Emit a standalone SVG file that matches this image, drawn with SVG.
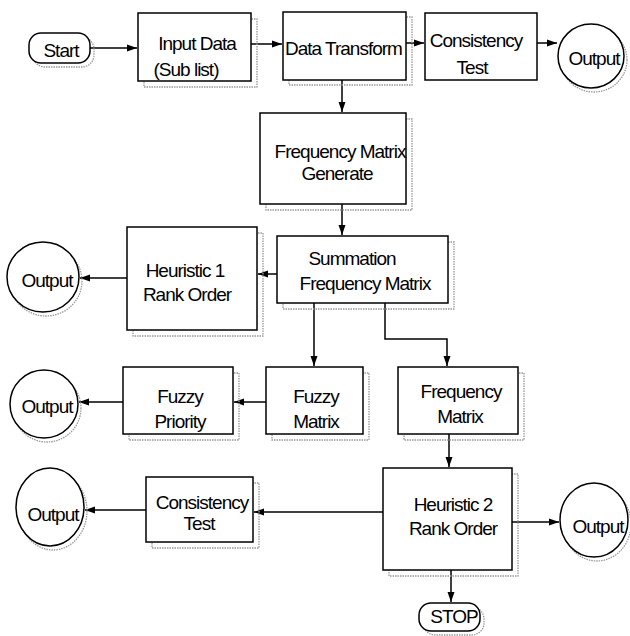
<svg xmlns="http://www.w3.org/2000/svg" width="630" height="636" viewBox="0 0 630 636">
<style>
.box{fill:#fff;stroke:#000;stroke-width:1.5}
.sh{fill:none;stroke:#999;stroke-width:1.3;stroke-dasharray:1.5 1}
.t{font-family:"Liberation Sans",Arial,sans-serif;font-size:19px;letter-spacing:-1px;text-anchor:middle;fill:#000}
.c{fill:none;stroke:#000;stroke-width:1.5;marker-end:url(#a)}
</style>
<defs>
<marker id="a" markerUnits="userSpaceOnUse" markerWidth="11" markerHeight="8" refX="10" refY="4" orient="auto">
<path d="M0,0.5 L10,4 L0,7.5 z" fill="#000"/>
</marker>
</defs>
<rect width="630" height="636" fill="#fff"/>
<g id="connectors">
<path class="c" d="M90,48 H137"/>
<path class="c" d="M251,44 H282"/>
<path class="c" d="M406,43 H424"/>
<path class="c" d="M537,43 H557"/>
<path class="c" d="M342,80 V112"/>
<path class="c" d="M342,204 V235"/>
<path class="c" d="M277,274 H258"/>
<path class="c" d="M127,278 H80"/>
<path class="c" d="M314,303 V366"/>
<path class="c" d="M385,303 V339 H447 V366"/>
<path class="c" d="M266,402 H234"/>
<path class="c" d="M123,402 H79"/>
<path class="c" d="M449,434 V467"/>
<path class="c" d="M512,522 H559"/>
<path class="c" d="M383,512 H254"/>
<path class="c" d="M146,510 H85"/>
<path class="c" d="M451,570 V602"/>
</g>
<g id="start">
<rect class="sh" x="33" y="37" width="61" height="30" rx="12"/>
<rect class="box" x="29" y="33" width="61" height="30" rx="12"/>
<text class="t" x="61" y="57">Start</text>
</g>
<g id="input">
<rect class="sh" x="144" y="19" width="113" height="68"/>
<rect class="box" x="138" y="13" width="113" height="68"/>
<text class="t" x="197" y="50">Input Data</text>
<text class="t" x="186" y="76">(Sub list)</text>
</g>
<g id="transform">
<rect class="sh" x="289" y="17" width="123" height="68"/>
<rect class="box" x="283" y="12" width="123" height="68"/>
<text class="t" x="285" y="55" style="text-anchor:start">Data Transform</text>
</g>
<g id="consistency1">
<rect class="box" x="425" y="13" width="112" height="67"/>
<text class="t" x="476" y="47">Consistency</text>
<text class="t" x="472" y="74">Test</text>
</g>
<g id="output1">
<ellipse class="sh" cx="594" cy="60" rx="33" ry="32"/>
<ellipse class="box" cx="591" cy="56" rx="33" ry="32"/>
<text class="t" x="594" y="65">Output</text>
</g>
<g id="freqgen">
<rect class="sh" x="266" y="119" width="146" height="91"/>
<rect class="box" x="260" y="113" width="146" height="91"/>
<text class="t" x="340" y="158">Frequency Matrix</text>
<text class="t" x="337" y="180">Generate</text>
</g>
<g id="summation">
<rect class="sh" x="283" y="242" width="171" height="67"/>
<rect class="box" x="277" y="236" width="171" height="67"/>
<text class="t" x="352" y="265">Summation</text>
<text class="t" x="365" y="290">Frequency Matrix</text>
</g>
<g id="heuristic1">
<rect class="sh" x="133" y="233" width="130" height="103"/>
<rect class="box" x="127" y="227" width="130" height="103"/>
<text class="t" x="185" y="277">Heuristic 1</text>
<text class="t" x="187" y="301">Rank Order</text>
</g>
<g id="output2">
<ellipse class="sh" cx="46" cy="281" rx="36" ry="35"/>
<ellipse class="box" cx="43" cy="277" rx="36" ry="35"/>
<text class="t" x="47" y="287">Output</text>
</g>
<g id="fuzzymatrix">
<rect class="sh" x="272" y="373" width="97" height="67"/>
<rect class="box" x="266" y="367" width="97" height="67"/>
<text class="t" x="316" y="403">Fuzzy</text>
<text class="t" x="316" y="428">Matrix</text>
</g>
<g id="freqmatrix">
<rect class="sh" x="404" y="373" width="120" height="67"/>
<rect class="box" x="398" y="367" width="120" height="67"/>
<text class="t" x="461" y="398">Frequency</text>
<text class="t" x="460" y="423">Matrix</text>
</g>
<g id="fuzzypriority">
<rect class="sh" x="129" y="373" width="110" height="67"/>
<rect class="box" x="123" y="367" width="110" height="67"/>
<text class="t" x="180" y="403">Fuzzy</text>
<text class="t" x="180" y="428">Priority</text>
</g>
<g id="output3">
<ellipse class="sh" cx="47" cy="408" rx="34" ry="34"/>
<ellipse class="box" cx="44" cy="404" rx="34" ry="34"/>
<text class="t" x="47" y="413">Output</text>
</g>
<g id="heuristic2">
<rect class="sh" x="389" y="474" width="129" height="102"/>
<rect class="box" x="383" y="468" width="129" height="102"/>
<text class="t" x="453" y="511">Heuristic 2</text>
<text class="t" x="453" y="535">Rank Order</text>
</g>
<g id="output4">
<ellipse class="sh" cx="597" cy="524" rx="34" ry="37"/>
<ellipse class="box" cx="594" cy="520" rx="34" ry="37"/>
<text class="t" x="598" y="533">Output</text>
</g>
<g id="consistency2">
<rect class="sh" x="152" y="483" width="107" height="65"/>
<rect class="box" x="146" y="477" width="107" height="65"/>
<text class="t" x="202" y="509">Consistency</text>
<text class="t" x="199" y="530">Test</text>
</g>
<g id="output5">
<ellipse class="sh" cx="53" cy="511" rx="34" ry="39"/>
<ellipse class="box" cx="50" cy="507" rx="34" ry="39"/>
<text class="t" x="53" y="521">Output</text>
</g>
<g id="stop">
<rect class="sh" x="423" y="607" width="61" height="28" rx="12"/>
<rect class="box" x="419" y="603" width="61" height="28" rx="12"/>
<text class="t" x="454" y="623">STOP</text>
</g>
</svg>
